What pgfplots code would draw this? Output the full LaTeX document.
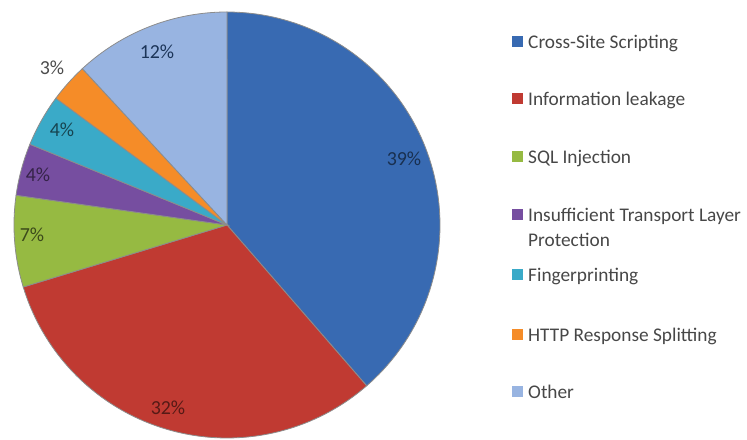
\documentclass[border=0pt]{standalone}
\usepackage{pgfplots}
\pgfplotsset{compat=1.18}
\usepackage{fontspec}
\setmainfont{Carlito}
\definecolor{cA}{RGB}{56,106,178}
\definecolor{cB}{RGB}{192,58,50}
\definecolor{cC}{RGB}{150,186,66}
\definecolor{cD}{RGB}{118,78,160}
\definecolor{cE}{RGB}{58,170,200}
\definecolor{cF}{RGB}{245,140,40}
\definecolor{cG}{RGB}{152,180,225}
% percentages (sum 101 due to rounding)
\def\vA{39}\def\vB{32}\def\vC{7}\def\vD{4}\def\vE{4}\def\vF{3}\def\vG{12}
\def\vT{101}
\newcommand{\pieslice}[3]{%
  \addplot[fill=#1, draw=black!45, line width=0.8pt, domain=#2:#3, samples=90]
    ({227+213*cos(x)},{215+213*sin(x)}) -- (227,215) -- cycle;}
\begin{document}
\begin{tikzpicture}
\pgfmathsetmacro\bA{90-360/\vT*(\vA)}
\pgfmathsetmacro\bB{90-360/\vT*(\vA+\vB)}
\pgfmathsetmacro\bC{90-360/\vT*(\vA+\vB+\vC)}
\pgfmathsetmacro\bD{90-360/\vT*(\vA+\vB+\vC+\vD)}
\pgfmathsetmacro\bE{90-360/\vT*(\vA+\vB+\vC+\vD+\vE)}
\pgfmathsetmacro\bF{90-360/\vT*(\vA+\vB+\vC+\vD+\vE+\vF)}
\pgfmathsetmacro\bG{90-360/\vT*(\vA+\vB+\vC+\vD+\vE+\vF+\vG)}
\begin{axis}[x=1bp, y=1bp, xmin=0, xmax=747, ymin=0, ymax=440,
  hide axis, clip=false]
\path (0,0) rectangle (747,440);
\pieslice{cA}{\bA}{90}
\pieslice{cB}{\bB}{\bA}
\pieslice{cC}{\bC}{\bB}
\pieslice{cD}{\bD}{\bC}
\pieslice{cE}{\bE}{\bD}
\pieslice{cF}{\bF}{\bE}
\pieslice{cG}{\bG}{\bF}
% slice labels
\begin{scope}[every node/.style={font=\fontsize{20}{22}\selectfont, inner sep=0pt}]
\node[text=cA!45!black] at (404,281) {\vA\%};
\node[text=cB!45!black] at (168,32) {\vB\%};
\node[text=cC!40!black] at (32,205) {\vC\%};
\node[text=cD!45!black] at (38,265) {\vD\%};
\node[text=cE!40!black] at (62,310) {\vE\%};
\node[text=black!70] at (52,372) {\vF\%};
\node[text=cA!50!black] at (157,388) {\vG\%};
\end{scope}
% legend
\begin{scope}[every node/.style={font=\fontsize{19.4}{21}\selectfont, inner sep=0pt, anchor=base west, text=black!72}]
\fill[cA] (512,392.5) rectangle (523,403.5); \node at (528,391.8) {Cross-Site Scripting};
\fill[cB] (512,335.5) rectangle (523,346.5); \node at (528,334.8) {Information leakage};
\fill[cC] (512,277.5) rectangle (523,288.5); \node at (528,276.8) {SQL Injection};
\fill[cD] (512,219.5) rectangle (523,230.5); \node at (528,218.8) {Insufficient Transport Layer};
\node at (528,193.8) {Protection};
\fill[cE] (512,159.5) rectangle (523,170.5); \node at (528,158.8) {Fingerprinting};
\fill[cF] (512,99.5) rectangle (523,110.5); \node at (528,98.8) {HTTP Response Splitting};
\fill[cG] (512,42.5) rectangle (523,53.5); \node at (528,41.8) {Other};
\end{scope}
\end{axis}
\end{tikzpicture}
\end{document}
